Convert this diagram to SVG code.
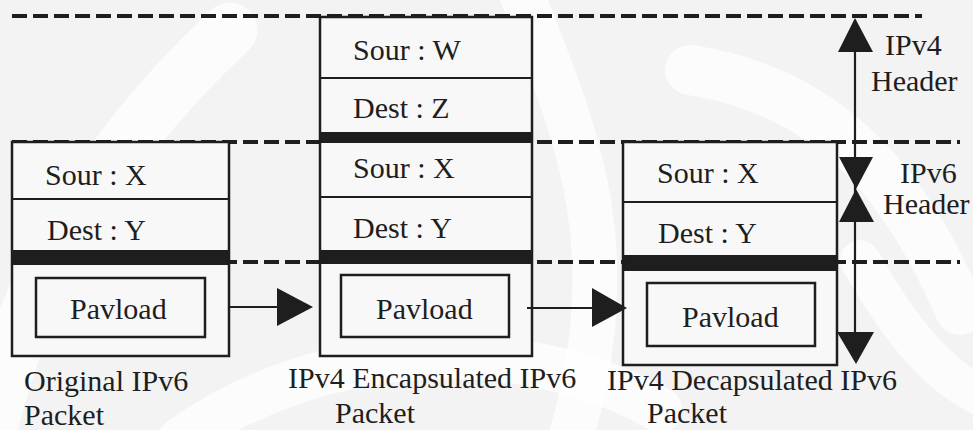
<svg xmlns="http://www.w3.org/2000/svg" width="973" height="430" viewBox="0 0 973 430">
  <style>
    .bg { fill: #f3f3f3; }
    .mark { fill: none; stroke: #ffffff; stroke-linecap: round; opacity: 0.7; }
    .frame { fill: none; stroke: #1e1e1e; stroke-width: 2.5; }
    .row { stroke: #1e1e1e; stroke-width: 2; }
    .bar { fill: #1e1e1e; }
    .dash { stroke: #1e1e1e; stroke-width: 4; stroke-dasharray: 15 6; fill: none; }
    .wire { stroke: #1e1e1e; stroke-width: 2.2; fill: none; }
    .head { fill: #1e1e1e; }
    text { font-family: "Liberation Serif", "Times New Roman", serif; font-size: 30px; fill: #1e1e1e; }
  </style>

  <!-- background with faint watermark swirls -->
  <rect class="bg" x="0" y="0" width="973" height="430"/>
  <g id="watermark">
    <path class="mark" stroke-width="55" d="M -10 430 C 20 300, 90 160, 230 30"/>
    <path class="mark" stroke-width="45" d="M 520 -10 C 570 120, 630 240, 570 440"/>
    <path class="mark" stroke-width="50" d="M 690 70 C 820 90, 900 170, 960 310"/>
    <path class="mark" stroke-width="45" d="M 180 440 C 320 340, 520 330, 660 410"/>
    <path class="mark" stroke-width="40" d="M 860 260 C 900 330, 940 380, 990 400"/>
  </g>

  <!-- layer boundaries -->
  <g id="boundaries">
    <line class="dash" x1="12" y1="16" x2="922" y2="16"/>
    <line class="dash" x1="12" y1="142" x2="960" y2="142"/>
    <line class="dash" x1="12" y1="262" x2="960" y2="262"/>
  </g>

  <!-- original IPv6 packet -->
  <g id="packet-original">
    <rect x="12" y="142" width="217" height="214" fill="#f8f8f8"/>
    <rect class="bar" x="12" y="250" width="217" height="15"/>
    <line class="row" x1="12" y1="199" x2="229" y2="199"/>
    <rect class="frame" x="12" y="142" width="217" height="214"/>
    <rect class="frame" x="36" y="278" width="169" height="59"/>
    <text x="45" y="185">Sour : X</text>
    <text x="47" y="240">Dest : Y</text>
    <text x="70" y="319">Pavload</text>
    <text x="24" y="391">Original IPv6</text>
    <text x="24" y="425">Packet</text>
  </g>

  <!-- IPv4 encapsulated IPv6 packet -->
  <g id="packet-encapsulated">
    <rect x="320" y="17" width="212" height="339" fill="#f8f8f8"/>
    <rect class="bar" x="320" y="132" width="212" height="11"/>
    <rect class="bar" x="320" y="250" width="212" height="14"/>
    <line class="row" x1="320" y1="78" x2="532" y2="78"/>
    <line class="row" x1="320" y1="197" x2="532" y2="197"/>
    <rect class="frame" x="320" y="17" width="212" height="339"/>
    <rect class="frame" x="341" y="275" width="168" height="62"/>
    <text x="353" y="60">Sour : W</text>
    <text x="353" y="118">Dest : Z</text>
    <text x="353" y="178">Sour : X</text>
    <text x="353" y="238">Dest : Y</text>
    <text x="376" y="319">Pavload</text>
    <text x="288" y="388">IPv4 Encapsulated IPv6</text>
    <text x="335" y="423">Packet</text>
  </g>

  <!-- IPv4 decapsulated IPv6 packet -->
  <g id="packet-decapsulated">
    <rect x="623" y="142" width="214" height="223" fill="#f8f8f8"/>
    <rect class="bar" x="623" y="255" width="214" height="16"/>
    <line class="row" x1="623" y1="202" x2="837" y2="202"/>
    <rect class="frame" x="623" y="142" width="214" height="223"/>
    <rect class="frame" x="647" y="283" width="168" height="63"/>
    <text x="657" y="183">Sour : X</text>
    <text x="658" y="243">Dest : Y</text>
    <text x="682" y="327">Pavload</text>
    <text x="607" y="390">IPv4 Decapsulated IPv6</text>
    <text x="647" y="423">Packet</text>
  </g>

  <!-- flow and header extent arrows -->
  <g id="connectors">
    <line class="wire" x1="229" y1="307" x2="290" y2="307"/>
    <polygon class="head" points="277,288 313,307 277,326"/>
    <line class="wire" x1="527" y1="308" x2="600" y2="308"/>
    <polygon class="head" points="592,288 627,308 592,327"/>

    <line class="wire" x1="855" y1="20" x2="855" y2="360" stroke-width="3"/>
    <polygon class="head" points="855,18 873,52 838,52"/>
    <polygon class="head" points="839,157 873,157 856,189"/>
    <polygon class="head" points="856,189 874,222 839,222"/>
    <polygon class="head" points="837,332 874,332 856,364"/>
  </g>

  <!-- header extent labels -->
  <g id="header-labels">
    <text x="885" y="55">IPv4</text>
    <text x="871" y="91">Header</text>
    <text x="900" y="183">IPv6</text>
    <text x="883" y="214">Header</text>
  </g>
</svg>
